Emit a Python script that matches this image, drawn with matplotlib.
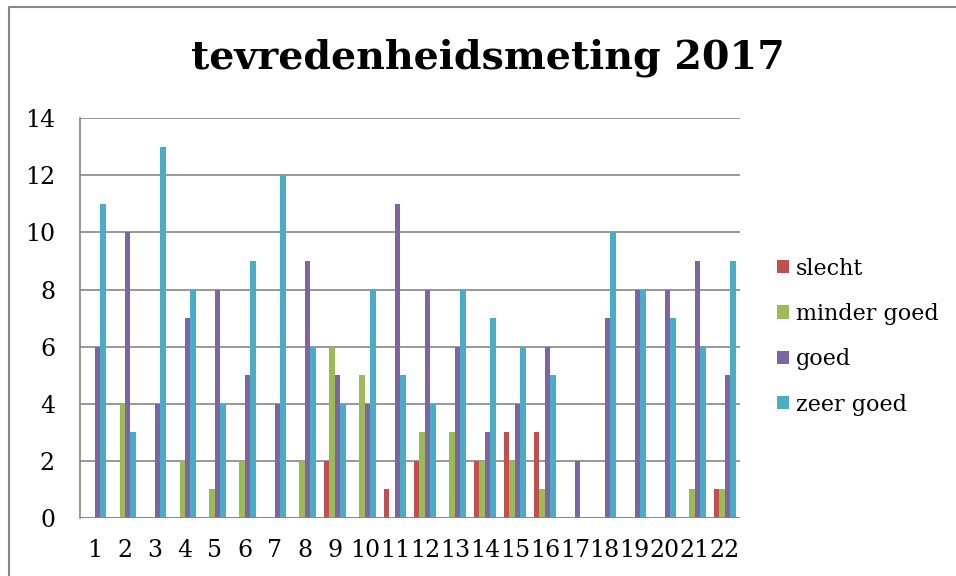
import numpy as np
import matplotlib
matplotlib.use("Agg")
import matplotlib.pyplot as plt
from matplotlib.lines import Line2D

# data
vragen = [str(i) for i in range(1, 23)]
slecht      = [0, 0, 0, 0, 0, 0, 0, 0, 2, 0, 1, 2, 0, 2, 3, 3, 0, 0, 0, 0, 0, 1]
minder_goed = [0, 4, 0, 2, 1, 2, 0, 2, 6, 5, 0, 3, 3, 2, 2, 1, 0, 0, 0, 0, 1, 1]
goed        = [6, 10, 4, 7, 8, 5, 4, 9, 5, 4, 11, 8, 6, 3, 4, 6, 2, 7, 8, 8, 9, 5]
zeer_goed   = [11, 3, 13, 8, 4, 9, 12, 6, 4, 8, 5, 4, 8, 7, 6, 5, 0, 10, 8, 7, 6, 9]

series = [("slecht", slecht, "#C0504D"),
          ("minder goed", minder_goed, "#9BBB59"),
          ("goed", goed, "#8064A2"),
          ("zeer goed", zeer_goed, "#4BACC6")]

plt.rcParams['font.family'] = ['DejaVu Serif']

fig = plt.figure(figsize=(9.56, 5.76), dpi=100)
ax = fig.add_axes([0.0837, 0.1007, 0.690, 0.694])

x = np.arange(len(vragen))
w = 1 / 5.5
for i, (name, vals, col) in enumerate(series):
    ax.bar(x + (i - 1.5) * w, vals, width=w, color=col, label=name, zorder=3)

ax.set_xlim(-0.5, len(vragen) - 0.5)
ax.set_ylim(0, 14)
ax.set_yticks(range(0, 15, 2))
ax.set_xticks(x)
ax.set_xticklabels(vragen)
ax.grid(axis="y", color="#868686", lw=1.2, zorder=0)
for s in ["top", "right", "bottom"]:
    ax.spines[s].set_visible(False)
ax.spines["left"].set_color("#868686")
ax.spines["left"].set_linewidth(1.2)
ax.axhline(0, color="#868686", lw=1.2, zorder=4)
ax.tick_params(axis="x", length=0, labelsize=17, pad=15)
ax.tick_params(axis="y", length=0, labelsize=17, pad=18)

fig.text(0.51, 0.90, "tevredenheidsmeting 2017", ha="center", va="center",
         fontsize=28.5, fontweight="bold")

ax.legend(loc="center left", bbox_to_anchor=(1.03, 0.454), frameon=False,
          fontsize=16, handlelength=0.55, handleheight=0.55, handletextpad=0.3,
          labelspacing=1.05, borderaxespad=0.4)

# chart border (top and left only visible)
fig.add_artist(Line2D([9 / 956, 9 / 956, 1.0], [0.0, 1 - 7 / 576, 1 - 7 / 576],
                      transform=fig.transFigure, color="#868686", lw=1.5))

fig.savefig("out.png", dpi=100)
